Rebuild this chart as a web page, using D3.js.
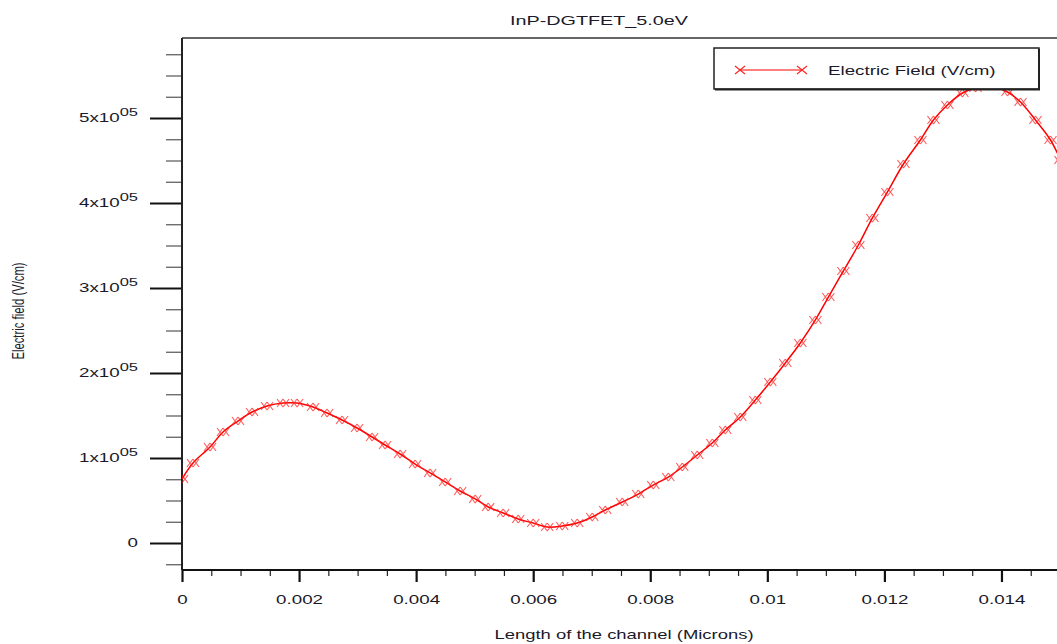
<!DOCTYPE html>
<html>
<head>
<meta charset="utf-8">
<script src="https://cdn.jsdelivr.net/npm/d3@7"></script>
<style>
  html, body { margin: 0; padding: 0; background: #fff; }
  svg { display: block; }
  text { font-family: "Liberation Sans", Arial, sans-serif; fill: #1a1a2a; }
</style>
</head>
<body>
<svg id="chart" width="1057" height="644"></svg>
<script>
// Channel position (microns) and electric field (V/cm) along the InP DG-TFET
const positions = [
  0, 0.000188, 0.000479, 0.000701, 0.000957, 0.001197, 0.001453, 0.001726, 0.001966,
  0.002239, 0.002479, 0.002735, 0.002991, 0.003248, 0.00347, 0.003726, 0.003983,
  0.004239, 0.004496, 0.004752, 0.005009, 0.005231, 0.005487, 0.005744, 0.006,
  0.006239, 0.006496, 0.006752, 0.007009, 0.007231, 0.007521, 0.007795, 0.008051,
  0.008308, 0.008547, 0.008803, 0.00906, 0.009282, 0.009538, 0.009795, 0.010051,
  0.010308, 0.010564, 0.010821, 0.011043, 0.011299, 0.011556, 0.011795, 0.012051,
  0.012325, 0.012615, 0.012838, 0.013077, 0.013333, 0.013556, 0.013761, 0.014103,
  0.014325, 0.014581, 0.014838, 0.015009
];
const fieldValues = [
  75300, 94100, 112900, 130600, 143500, 154100, 161200, 164700, 164700,
  160000, 152900, 144700, 135300, 124700, 115300, 104700, 92900,
  82400, 71800, 61200, 51800, 42400, 35300, 28200, 23500,
  18800, 20000, 23500, 30600, 38800, 48200, 57600, 68200,
  77600, 89400, 103500, 117600, 132900, 148200, 168200, 189400,
  211800, 235300, 262400, 289400, 320000, 350600, 382400, 412900,
  445900, 474100, 497600, 515300, 529400, 535300, 537600, 530600,
  518800, 497600, 474100, 450600
];
const xMajorTicks = [0, 0.002, 0.004, 0.006, 0.008, 0.010, 0.012, 0.014];
const xTickLabels = ["0", "0.002", "0.004", "0.006", "0.008", "0.01", "0.012", "0.014"];
const yMajorTicks = [0, 100000, 200000, 300000, 400000, 500000];
const yTickMantissa = ["0", "1", "2", "3", "4", "5"];

const titleText = "InP-DGTFET_5.0eV";
const xTitle = "Length of the channel (Microns)";
const yTitle = "Electric field (V/cm)";
const seriesName = "Electric Field (V/cm)";

// all lettering is drawn horizontally widened
const stretch = 1.5;

const svg = d3.select("#chart");

// plot frame
const plotLeft = 182, plotTop = 38, plotBottom = 570, plotRight = 1060;
const x = d3.scaleLinear().domain([0, 0.015]).range([plotLeft, plotRight]);
const y = d3.scaleLinear().domain([-31765, 594118]).range([plotBottom, plotTop]);

const data = positions.map((p, i) => ({ x: p, y: fieldValues[i] }));

// places a widened text at (px, py)
function wideText(parent, px, py, anchor, size, str) {
  return parent.append("text")
    .attr("transform", `translate(${px},${py}) scale(${stretch},1)`)
    .attr("text-anchor", anchor)
    .attr("font-size", size)
    .text(str);
}

// clip for the plotting area
svg.append("defs").append("clipPath").attr("id", "plotClip")
  .append("rect").attr("x", plotLeft).attr("y", plotTop - 10)
  .attr("width", plotRight - plotLeft + 20).attr("height", plotBottom - plotTop + 10);

// frame: top edge and right edge
svg.append("line").attr("x1", plotLeft).attr("x2", plotRight).attr("y1", plotTop).attr("y2", plotTop)
  .attr("stroke", "#333").attr("stroke-width", 1.5);
svg.append("line").attr("x1", plotRight).attr("x2", plotRight).attr("y1", plotTop).attr("y2", plotBottom)
  .attr("stroke", "#333").attr("stroke-width", 1.5);

// y axis: minor ticks every 25000, major every 100000
const yMinor = d3.range(-25000, 575001, 25000).filter(v => v % 100000 !== 0);
const yAxisMinor = d3.axisLeft(y).tickValues(yMinor).tickSize(16).tickFormat("");
const gyMinor = svg.append("g").attr("transform", `translate(${plotLeft},0)`).call(yAxisMinor);
gyMinor.select(".domain").remove();
gyMinor.selectAll(".tick line").attr("stroke", "#555").attr("stroke-width", 1.2);

const yAxisMajor = d3.axisLeft(y).tickValues(yMajorTicks).tickSize(32).tickFormat("");
const gyMajor = svg.append("g").attr("transform", `translate(${plotLeft},0)`).call(yAxisMajor);
gyMajor.select(".domain").remove();
gyMajor.selectAll(".tick line").attr("stroke", "#111").attr("stroke-width", 2);

// y tick labels with powers of ten written as superscripts
const yLab = svg.append("g");
yMajorTicks.forEach((v, i) => {
  const t = wideText(yLab, 138, y(v) + 4, "end", 12.5, null);
  if (v === 0) {
    t.text("0");
  } else {
    t.append("tspan").text(yTickMantissa[i] + "x10");
    t.append("tspan").attr("dy", -6).attr("font-size", 11).text("05");
  }
});

// x axis
const xMinor = d3.range(0, 0.01451, 0.0005).filter((v, i) => i % 4 !== 0);
const xAxisMinor = d3.axisBottom(x).tickValues(xMinor).tickSize(6).tickFormat("");
const gxMinor = svg.append("g").attr("transform", `translate(0,${plotBottom})`).call(xAxisMinor);
gxMinor.select(".domain").remove();
gxMinor.selectAll(".tick line").attr("stroke", "#222").attr("stroke-width", 1.2);

const xAxisMajor = d3.axisBottom(x).tickValues(xMajorTicks).tickSize(12)
  .tickFormat((d, i) => xTickLabels[i]);
const gxMajor = svg.append("g").attr("transform", `translate(0,${plotBottom})`).call(xAxisMajor);
gxMajor.select(".domain").remove();
gxMajor.selectAll(".tick line").attr("stroke", "#111").attr("stroke-width", 2.2);
gxMajor.selectAll(".tick text")
  .attr("y", null).attr("dy", null)
  .attr("transform", `translate(0,34) scale(${stretch},1)`)
  .attr("font-size", 12.5)
  .attr("font-family", "Liberation Sans, Arial, sans-serif").attr("fill", "#1a1a2a");

// axis lines
svg.append("line").attr("x1", plotLeft).attr("x2", plotLeft).attr("y1", plotTop).attr("y2", plotBottom)
  .attr("stroke", "#222").attr("stroke-width", 2);
svg.append("line").attr("x1", plotLeft).attr("x2", plotRight).attr("y1", plotBottom).attr("y2", plotBottom)
  .attr("stroke", "#111").attr("stroke-width", 2);

// series line
const plot = svg.append("g").attr("clip-path", "url(#plotClip)");
const line = d3.line().x(d => x(d.x)).y(d => y(d.y)).curve(d3.curveCatmullRom);
plot.append("path").datum(data)
  .attr("fill", "none").attr("stroke", "#ff0000").attr("stroke-width", 1.5)
  .attr("d", line);

// double cross markers
const markerPath = "M-6,-4L0,4M0,-4L-6,4M0,-4L6,4M6,-4L0,4";
plot.selectAll("path.mk").data(data).enter().append("path")
  .attr("class", "mk")
  .attr("transform", d => `translate(${x(d.x)},${y(d.y)})`)
  .attr("d", markerPath)
  .attr("fill", "none").attr("stroke", "#ff2020").attr("stroke-opacity", 0.75)
  .attr("stroke-width", 1.1);

// legend
const lg = svg.append("g");
lg.append("rect").attr("x", 714).attr("y", 48).attr("width", 325).attr("height", 41)
  .attr("fill", "#fff").attr("stroke", "#222").attr("stroke-width", 1.5);
lg.append("line").attr("x1", 1039).attr("x2", 1039).attr("y1", 49).attr("y2", 90)
  .attr("stroke", "#222").attr("stroke-width", 2);
lg.append("line").attr("x1", 715).attr("x2", 1040).attr("y1", 89.5).attr("y2", 89.5)
  .attr("stroke", "#222").attr("stroke-width", 2);
lg.append("line").attr("x1", 740).attr("x2", 802).attr("y1", 70).attr("y2", 70)
  .attr("stroke", "#ff0000").attr("stroke-width", 1.2);
[740, 802].forEach(cx => {
  lg.append("path").attr("transform", `translate(${cx},70)`)
    .attr("d", "M-5,-4L5,4M-5,4L5,-4")
    .attr("fill", "none").attr("stroke", "#ff2020").attr("stroke-width", 1.1);
});
wideText(lg, 828, 75, "start", 12.5, seriesName);

// titles
wideText(svg, 599, 25, "middle", 13.2, titleText);
wideText(svg, 624, 639, "middle", 12.3, xTitle);
svg.append("text")
  .attr("transform", `translate(24,311) scale(${stretch},1) rotate(-90)`)
  .attr("text-anchor", "middle").attr("font-size", 11.3)
  .text(yTitle);
</script>
</body>
</html>
